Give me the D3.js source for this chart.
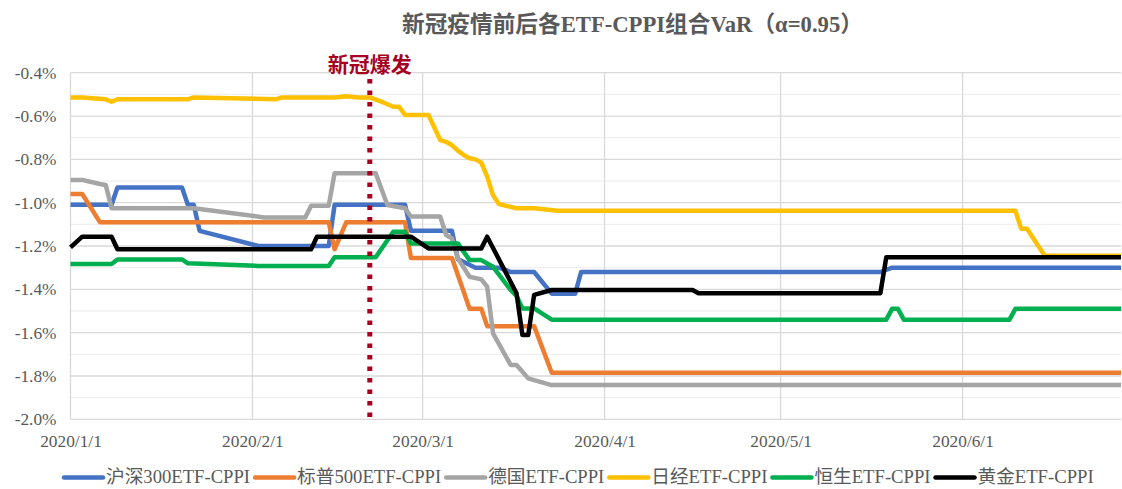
<!DOCTYPE html>
<html><head><meta charset="utf-8">
<script src="https://cdn.jsdelivr.net/npm/d3@7"></script>
<style>
html,body{margin:0;padding:0;background:#fff;}
svg{display:block;}
text{font-family:"Liberation Serif","Noto Sans CJK SC",serif;}
</style></head><body>
<svg id="chart" width="1122" height="489"></svg>
<script>
// ---------- data ----------
const titleText = "新冠疫情前后各ETF-CPPI组合VaR（α=0.95）";
const eventLabel = "新冠爆发";
const eventDate = "2020-02-21";
const xDomain = ["2020-01-01", "2020-06-28"];
const xTickDates = ["2020-01-01","2020-02-01","2020-03-01","2020-04-01","2020-05-01","2020-06-01"];
const yDomain = [-2.0, -0.4];
const yMajorTicks = [-0.4,-0.6,-0.8,-1.0,-1.2,-1.4,-1.6,-1.8,-2.0];
const yMinorTicks = [-0.5,-0.7,-0.9,-1.1,-1.3,-1.5,-1.7,-1.9];
const seriesNames = ["沪深300ETF-CPPI","标普500ETF-CPPI","德国ETF-CPPI","日经ETF-CPPI","恒生ETF-CPPI","黄金ETF-CPPI"];

const hs300 = [
 ["2020-01-01",-1.01],["2020-01-08",-1.01],["2020-01-09",-0.93],["2020-01-20",-0.93],
 ["2020-01-21",-1.01],["2020-01-22",-1.01],["2020-01-23",-1.13],["2020-02-02",-1.20],
 ["2020-02-14",-1.20],["2020-02-15",-1.01],["2020-02-27",-1.01],["2020-02-28",-1.13],
 ["2020-03-06",-1.13],["2020-03-07",-1.26],["2020-03-10",-1.30],["2020-03-14",-1.30],
 ["2020-03-16",-1.32],["2020-03-20",-1.32],["2020-03-23",-1.42],["2020-03-27",-1.42],
 ["2020-03-28",-1.32],["2020-05-18",-1.32],["2020-05-20",-1.30],["2020-06-28",-1.30]
];
const sp500 = [
 ["2020-01-01",-0.96],["2020-01-03",-0.96],["2020-01-06",-1.09],["2020-02-14",-1.09],
 ["2020-02-15",-1.215],["2020-02-17",-1.09],["2020-02-27",-1.09],["2020-02-28",-1.255],
 ["2020-03-06",-1.255],["2020-03-09",-1.49],["2020-03-11",-1.49],["2020-03-12",-1.57],
 ["2020-03-20",-1.57],["2020-03-23",-1.785],["2020-06-28",-1.785]
];
const germany = [
 ["2020-01-01",-0.895],["2020-01-03",-0.895],["2020-01-06",-0.914],["2020-01-07",-0.918],
 ["2020-01-08",-1.026],["2020-01-22",-1.026],["2020-02-03",-1.068],["2020-02-10",-1.068],
 ["2020-02-11",-1.014],["2020-02-14",-1.014],["2020-02-15",-0.864],["2020-02-22",-0.864],
 ["2020-02-24",-1.011],["2020-02-27",-1.026],["2020-02-28",-1.064],["2020-03-04",-1.064],
 ["2020-03-05",-1.149],["2020-03-06",-1.165],["2020-03-07",-1.257],["2020-03-09",-1.342],
 ["2020-03-11",-1.354],["2020-03-12",-1.388],["2020-03-13",-1.603],["2020-03-16",-1.749],
 ["2020-03-17",-1.749],["2020-03-19",-1.811],["2020-03-20",-1.819],["2020-03-23",-1.842],
 ["2020-06-28",-1.842]
];
const nikkei = [
 ["2020-01-01",-0.514],["2020-01-03",-0.514],["2020-01-07",-0.523],["2020-01-08",-0.534],
 ["2020-01-09",-0.523],["2020-01-21",-0.523],["2020-01-22",-0.514],["2020-02-05",-0.523],
 ["2020-02-06",-0.514],["2020-02-15",-0.514],["2020-02-17",-0.509],["2020-02-19",-0.514],
 ["2020-02-21",-0.514],["2020-02-23",-0.534],["2020-02-25",-0.557],["2020-02-26",-0.557],
 ["2020-02-27",-0.595],["2020-03-02",-0.595],["2020-03-04",-0.711],["2020-03-05",-0.719],
 ["2020-03-06",-0.735],["2020-03-07",-0.76],["2020-03-08",-0.78],["2020-03-09",-0.795],
 ["2020-03-10",-0.80],["2020-03-11",-0.815],["2020-03-12",-0.88],["2020-03-13",-0.966],
 ["2020-03-14",-1.006],["2020-03-17",-1.026],["2020-03-20",-1.026],["2020-03-24",-1.037],
 ["2020-06-10",-1.037],["2020-06-11",-1.12],["2020-06-12",-1.12],["2020-06-15",-1.245],
 ["2020-06-28",-1.245]
];
const hangseng = [
 ["2020-01-01",-1.283],["2020-01-08",-1.283],["2020-01-09",-1.262],["2020-01-20",-1.262],
 ["2020-01-21",-1.28],["2020-02-02",-1.292],["2020-02-14",-1.292],["2020-02-15",-1.252],
 ["2020-02-22",-1.252],["2020-02-25",-1.134],["2020-02-27",-1.134],["2020-02-28",-1.188],
 ["2020-03-07",-1.188],["2020-03-09",-1.265],["2020-03-11",-1.265],["2020-03-13",-1.296],
 ["2020-03-16",-1.403],["2020-03-17",-1.43],["2020-03-18",-1.488],["2020-03-20",-1.488],
 ["2020-03-23",-1.54],["2020-05-19",-1.54],["2020-05-20",-1.49],["2020-05-21",-1.49],
 ["2020-05-22",-1.54],["2020-06-09",-1.54],["2020-06-10",-1.49],["2020-06-28",-1.49]
];
const gold = [
 ["2020-01-01",-1.206],["2020-01-03",-1.157],["2020-01-08",-1.157],["2020-01-09",-1.215],
 ["2020-02-11",-1.215],["2020-02-12",-1.157],["2020-02-28",-1.157],["2020-03-02",-1.211],
 ["2020-03-11",-1.211],["2020-03-12",-1.157],["2020-03-17",-1.418],["2020-03-18",-1.611],
 ["2020-03-19",-1.611],["2020-03-20",-1.426],["2020-03-23",-1.403],["2020-04-16",-1.403],
 ["2020-04-17",-1.418],["2020-05-18",-1.418],["2020-05-19",-1.252],["2020-06-28",-1.252]
];
const seriesValues = [hs300, sp500, germany, nikkei, hangseng, gold];

// ---------- styles ----------
const seriesColors = ["#4472c4","#ed7d31","#a5a5a5","#ffc000","#00b050","#000000"];
const textColor = "#595959";
const eventColor = "#a50021";

// ---------- layout ----------
const W = 1122, H = 489;
const plot = {left: 70.5, right: 1121, top: 72.7, bottom: 419.3};
const parse = d3.timeParse("%Y-%m-%d");

const x = d3.scaleTime().domain(xDomain.map(parse)).range([plot.left, plot.right]);
const y = d3.scaleLinear().domain(yDomain).range([plot.bottom, plot.top]);

const svg = d3.select("#chart");
svg.append("rect").attr("width", W).attr("height", H).attr("fill", "#fff");

// minor gridlines
svg.append("g").selectAll("line").data(yMinorTicks).join("line")
  .attr("x1", plot.left).attr("x2", plot.right)
  .attr("y1", d => y(d)).attr("y2", d => y(d))
  .attr("stroke", "#f0f0f0").attr("stroke-width", 1.3);
// major gridlines
svg.append("g").selectAll("line").data(yMajorTicks).join("line")
  .attr("x1", plot.left).attr("x2", plot.right)
  .attr("y1", d => y(d)).attr("y2", d => y(d))
  .attr("stroke", "#d9d9d9").attr("stroke-width", 1.3);
// vertical gridlines
svg.append("g").selectAll("line").data(xTickDates.map(parse)).join("line")
  .attr("x1", d => x(d)).attr("x2", d => x(d))
  .attr("y1", plot.top).attr("y2", plot.bottom)
  .attr("stroke", "#d9d9d9").attr("stroke-width", 1.3);

// axes labels via d3 axes
const yAxis = d3.axisLeft(y).tickValues(yMajorTicks).tickSize(0).tickPadding(14)
  .tickFormat(d => d.toFixed(1) + "%");
const gy = svg.append("g").attr("transform", `translate(${plot.left},0)`).call(yAxis);
gy.select(".domain").remove();
gy.selectAll("text").attr("fill", textColor).style("font-size", "17.33px")
  .style("font-family", '"Liberation Serif","Noto Sans CJK SC",serif');

const xAxis = d3.axisBottom(x).tickValues(xTickDates.map(parse)).tickSize(0).tickPadding(15)
  .tickFormat(d3.timeFormat("%Y/%-m/%-d"));
const gx = svg.append("g").attr("transform", `translate(0,${plot.bottom})`).call(xAxis);
gx.select(".domain").remove();
gx.selectAll("text").attr("fill", textColor).style("font-size", "17.33px")
  .style("font-family", '"Liberation Serif","Noto Sans CJK SC",serif');

// series lines
const line = d3.line().x(d => x(parse(d[0]))).y(d => y(d[1]));
svg.append("g").selectAll("path").data(seriesValues).join("path")
  .attr("d", d => line(d))
  .attr("fill", "none")
  .attr("stroke", (d, i) => seriesColors[i])
  .attr("stroke-width", 4.5)
  .attr("stroke-linejoin", "round")
  .attr("stroke-linecap", "butt");

// event marker
const ex = x(parse(eventDate));
svg.append("line").attr("x1", ex).attr("x2", ex).attr("y1", 79).attr("y2", plot.bottom)
  .attr("stroke", eventColor).attr("stroke-width", 5).attr("stroke-dasharray", "4.5 7");
svg.append("text").attr("x", ex).attr("y", 72).attr("text-anchor", "middle")
  .attr("fill", eventColor).style("font-size", "21px").style("font-weight", "bold")
  .text(eventLabel);

// title
svg.append("text").attr("x", 632.5).attr("y", 32).attr("text-anchor", "middle")
  .attr("fill", textColor).style("font-size", "22.67px").style("font-weight", "bold")
  .text(titleText);

// legend
const lg = svg.append("g");
let lx = 62;
const ly = 477.5;
seriesNames.forEach((name, i) => {
  lg.append("line").attr("x1", lx + 2).attr("x2", lx + 41).attr("y1", ly).attr("y2", ly)
    .attr("stroke", seriesColors[i]).attr("stroke-width", 4.5).attr("stroke-linecap", "round");
  const t = lg.append("text").attr("x", lx + 44).attr("y", ly).attr("dy", "0.3em")
    .attr("fill", textColor).style("font-size", "18.67px").text(name);
  lx = lx + 44 + t.node().getComputedTextLength() + 3;
});
</script>
</body></html>
